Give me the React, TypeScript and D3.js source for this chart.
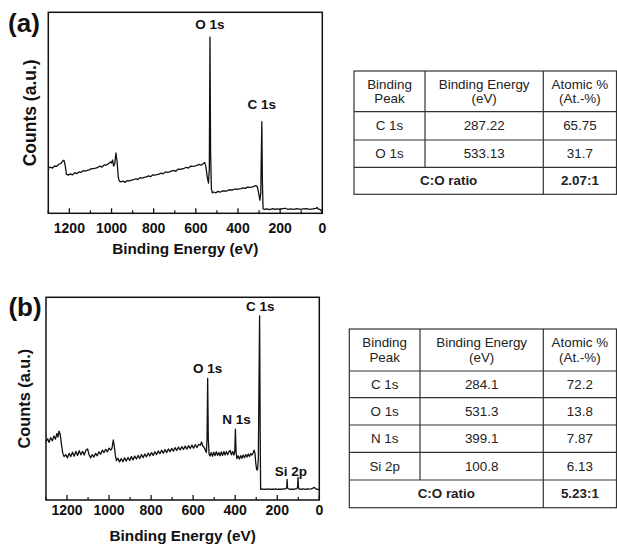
import React from "react";
import * as d3 from "d3";

// ---------- Panel (a) spectrum: [binding energy (eV), counts (a.u., 0-100)] ----------
const spectrumA: [number, number][] = [
  [1300,22.4],[1290,23.0],[1280,22.5],[1270,23.5],[1260,23.4],[1250,24.4],[1240,24.8],[1232,26.0],[1226,26.4],[1220,24.0],
  [1214,19.5],[1205,19.0],[1195,19.6],[1185,19.1],[1175,20.2],[1165,19.7],[1155,20.6],[1145,20.4],[1135,21.2],[1125,21.0],
  [1115,21.3],[1105,21.6],[1095,22.2],[1085,22.2],[1075,22.5],[1065,22.9],[1055,23.5],[1045,23.0],[1035,24.1],[1025,24.0],
  [1015,24.6],[1005,25.6],[1000,25.0],[995,26.5],[990,23.5],[985,24.5],[979,30.0],[974,26.0],[968,18.0],[963,16.0],
  [955,15.6],[945,16.0],[935,15.4],[925,16.3],[915,16.1],[905,16.5],[895,16.7],[885,17.2],[875,16.8],[865,17.7],
  [855,17.5],[845,17.9],[835,18.1],[825,18.6],[815,18.2],[805,19.1],[795,19.0],[785,19.2],[775,19.5],[765,20.0],
  [755,19.6],[745,20.6],[735,20.3],[725,20.6],[715,21.0],[705,21.4],[695,20.9],[685,22.0],[675,21.8],[665,22.1],
  [655,22.4],[645,22.9],[635,22.5],[625,23.4],[615,23.3],[605,23.5],[595,23.8],[585,24.3],[575,23.9],[565,24.8],
  [558,25.3],[552,23.0],[546,18.0],[540,15.0],[536,22.0],[533,87.6],[530,30.0],[526,12.0],[522,10.2],[515,10.6],
  [505,10.2],[495,10.9],[485,10.5],[475,11.1],[465,11.1],[455,11.0],[445,11.6],[435,11.6],[425,11.6],[415,12.1],
  [405,11.9],[395,12.2],[385,12.3],[375,12.7],[365,12.4],[355,13.0],[345,12.9],[335,13.0],[325,13.4],[315,13.8],
  [308,13.2],[302,10.0],[296,6.5],[292,10.0],[287,45.6],[284,15.0],[281,2.3],[275,1.9],[265,2.2],[255,1.9],
  [245,2.0],[235,2.3],[225,1.9],[215,2.2],[200,1.9],[190,2.3],[175,2.5],[165,2.0],[150,2.2],[135,1.9],
  [120,2.3],[105,2.0],[90,2.2],[75,2.3],[60,2.0],[45,2.2],[30,2.4],[25,2.9],[20,2.2],[10,1.8],[5,1.2],[0,0.8],
];

// ---------- Panel (b) spectrum ----------
const spectrumB: [number, number][] = [
  [1300,28.8],[1292,30.2],[1285,28.4],[1278,30.8],[1270,29.2],[1262,31.6],[1255,30.0],[1248,32.8],[1243,31.0],[1238,34.0],
  [1232,32.2],[1226,27.0],[1220,23.0],[1214,21.4],[1206,22.4],[1198,20.8],[1190,23.0],[1182,21.4],[1174,23.6],[1166,21.6],
  [1158,24.0],[1150,22.0],[1142,24.3],[1134,22.3],[1126,24.0],[1118,22.2],[1110,24.6],[1102,25.2],[1096,22.6],[1088,20.8],
  [1080,22.4],[1072,21.2],[1064,23.0],[1056,21.8],[1048,23.8],[1040,22.6],[1032,24.6],[1024,23.4],[1016,25.0],[1008,23.8],
  [1000,25.6],[992,24.6],[986,25.6],[980,29.6],[975,26.5],[970,22.0],[965,19.4],[958,20.6],[950,18.8],[942,20.4],
  [934,18.9],[926,20.8],[918,19.2],[910,21.0],[902,19.5],[894,21.4],[886,19.8],[878,21.7],[870,20.2],[862,22.0],
  [854,20.5],[846,22.4],[838,20.9],[830,22.7],[822,21.3],[814,23.1],[806,21.7],[798,23.4],[790,22.0],[782,23.8],
  [774,22.4],[766,24.2],[758,22.8],[750,24.5],[742,23.1],[734,24.9],[726,23.4],[718,25.2],[710,23.8],[702,25.5],
  [694,24.1],[686,25.8],[678,24.4],[670,26.1],[662,24.7],[654,26.3],[646,24.9],[638,26.6],[630,25.1],[622,26.8],
  [614,25.4],[606,27.1],[598,25.6],[590,27.3],[582,25.9],[574,27.4],[566,27.0],[560,28.6],[554,26.6],[548,26.0],
  [542,24.6],[537,23.5],[534,30.0],[531,60.0],[528,30.0],[524,22.5],[520,21.7],[514,23.4],[508,21.6],[502,23.6],
  [496,21.9],[490,23.8],[484,22.0],[478,23.4],[472,21.8],[466,23.7],[460,22.0],[454,23.9],[448,22.2],[442,24.0],
  [436,22.3],[430,23.8],[424,24.4],[418,22.3],[412,23.9],[406,22.2],[402,24.0],[399,34.9],[396,24.0],[392,20.4],
  [386,21.8],[380,20.2],[374,21.9],[368,20.6],[362,22.2],[356,20.9],[350,22.4],[344,21.2],[338,22.7],[332,21.5],
  [326,22.9],[320,22.2],[314,23.4],[310,24.6],[306,23.0],[302,18.0],[298,15.0],[294,14.8],[290,20.0],[284,90.8],
  [281,30.0],[279,5.3],[272,5.5],[264,5.2],[256,5.4],[248,5.3],[240,5.5],[232,5.2],[224,5.4],[216,5.3],
  [208,5.5],[200,5.2],[192,5.4],[184,5.3],[176,5.5],[168,5.4],[160,5.6],[155,6.0],[153,10.2],[151,5.8],
  [145,5.5],[138,5.3],[130,5.4],[122,5.3],[114,5.5],[106,5.6],[103,6.5],[101,11.2],[99,6.0],[95,5.4],
  [88,5.3],[80,5.5],[72,5.4],[64,5.3],[56,5.5],[48,5.4],[40,5.5],[32,5.7],[26,6.2],[22,6.0],
  [16,5.5],[10,5.3],[5,5.2],[0,5.0],
];

const xTickValues = [1200, 1000, 800, 600, 400, 200, 0];
const xMinorTicks = [1300, 1100, 900, 700, 500, 300, 100];

const peaksA = [
  { label: "O 1s", energy: 533, value: 94 },
  { label: "C 1s", energy: 287, value: 54 },
];
const peaksB = [
  { label: "C 1s", energy: 281, value: 95.5 },
  { label: "O 1s", energy: 531, value: 65 },
  { label: "N 1s", energy: 394, value: 39.6 },
  { label: "Si 2p", energy: 135, value: 14 },
];

// ---------- Tables ----------
const headerCells = [["Binding", "Peak"], ["Binding Energy", "(eV)"], ["Atomic %", "(At.-%)"]];
const tableRowsA = [
  ["C 1s", "287.22", "65.75"],
  ["O 1s", "533.13", "31.7"],
];
const ratioA = ["C:O ratio", "2.07:1"];
const tableRowsB = [
  ["C 1s", "284.1", "72.2"],
  ["O 1s", "531.3", "13.8"],
  ["N 1s", "399.1", "7.87"],
  ["Si 2p", "100.8", "6.13"],
];
const ratioB = ["C:O ratio", "5.23:1"];

const FONT = "'Liberation Sans', Arial, Helvetica, sans-serif";

type Peak = { label: string; energy: number; value: number };

function Spectrum(props: {
  left: number; right: number; top: number; bottom: number;
  data: [number, number][]; peaks: Peak[];
  tag: string; tagX: number; tagY: number;
  yTitleX: number; yTitleSize: number; tickLabelY: number; titleY: number;
}) {
  const { left, right, top, bottom, data, peaks } = props;
  const x = d3.scaleLinear().domain([1300, 0]).range([left, right]);
  const y = d3.scaleLinear().domain([0, 100]).range([bottom, top]);
  const line = d3.line<[number, number]>().x((d) => x(d[0])).y((d) => y(d[1]));
  const path = line(data) || "";
  return (
    <g>
      <path d={path} fill="none" stroke="#111" strokeWidth={1.3} strokeLinejoin="round" />
      <rect x={left} y={top} width={right - left} height={bottom - top} fill="none" stroke="#111" strokeWidth={1.5} />
      {xTickValues.map((t) => (
        <g key={"M" + t}>
          <line x1={x(t)} x2={x(t)} y1={bottom} y2={bottom - 5} stroke="#111" strokeWidth={1.3} />
          <text x={x(t)} y={props.tickLabelY} textAnchor="middle" dominantBaseline="central"
            fontFamily={FONT} fontWeight="bold" fontSize={14} fill="#111">{t}</text>
        </g>
      ))}
      {xMinorTicks.map((t) => (
        <line key={"m" + t} x1={x(t)} x2={x(t)} y1={bottom} y2={bottom - 3} stroke="#111" strokeWidth={1.2} />
      ))}
      {peaks.map((p) => (
        <text key={p.label} x={x(p.energy)} y={y(p.value)} textAnchor="middle" dominantBaseline="central"
          fontFamily={FONT} fontWeight="bold" fontSize={13.5} fill="#111">{p.label}</text>
      ))}
      <text x={(left + right) / 2} y={props.titleY} textAnchor="middle" dominantBaseline="central"
        fontFamily={FONT} fontWeight="bold" fontSize={15.3} fill="#111">Binding Energy (eV)</text>
      <text transform={`translate(${props.yTitleX},${(top + bottom) / 2}) rotate(-90)`} textAnchor="middle"
        dominantBaseline="central" fontFamily={FONT} fontWeight="bold" fontSize={props.yTitleSize} fill="#111">Counts (a.u.)</text>
      <text x={props.tagX} y={props.tagY} textAnchor="middle" dominantBaseline="central"
        fontFamily={FONT} fontWeight="bold" fontSize={26} fill="#111">{props.tag}</text>
    </g>
  );
}

function Table(props: {
  left: number; right: number; cols: number[]; rowLines: number[]; rows: string[][]; ratio: string[];
}) {
  const { left, right, cols, rowLines, rows, ratio } = props;
  const colEdges = [left, ...cols, right];
  const centers = [0, 1, 2].map((i) => (colEdges[i] + colEdges[i + 1]) / 2);
  const top = rowLines[0];
  const bottom = rowLines[rowLines.length - 1];
  const hMid = (rowLines[0] + rowLines[1]) / 2;
  const stroke = "#333";
  return (
    <g fontFamily={FONT} fontSize={13.4} fill="#222">
      <rect x={left} y={top} width={right - left} height={bottom - top} fill="white" stroke={stroke} strokeWidth={1.2} />
      {rowLines.slice(1, -1).map((r, i) => (
        <line key={"r" + i} x1={left} x2={right} y1={r} y2={r} stroke={stroke} strokeWidth={1.2} />
      ))}
      <line x1={cols[0]} x2={cols[0]} y1={top} y2={rowLines[rowLines.length - 2]} stroke={stroke} strokeWidth={1.2} />
      <line x1={cols[1]} x2={cols[1]} y1={top} y2={bottom} stroke={stroke} strokeWidth={1.2} />
      {headerCells.map((h, i) => (
        <g key={"h" + i}>
          <text x={centers[i]} y={hMid - 7.2} textAnchor="middle" dominantBaseline="central">{h[0]}</text>
          <text x={centers[i]} y={hMid + 7.2} textAnchor="middle" dominantBaseline="central">{h[1]}</text>
        </g>
      ))}
      {rows.map((row, ri) => {
        const cy = (rowLines[ri + 1] + rowLines[ri + 2]) / 2;
        return row.map((c, ci) => (
          <text key={ri + "-" + ci} x={centers[ci]} y={cy} textAnchor="middle" dominantBaseline="central">{c}</text>
        ));
      })}
      {(() => {
        const n = rowLines.length;
        const cy = (rowLines[n - 2] + rowLines[n - 1]) / 2;
        return (
          <g fontWeight="bold">
            <text x={(left + cols[1]) / 2} y={cy} textAnchor="middle" dominantBaseline="central">{ratio[0]}</text>
            <text x={centers[2]} y={cy} textAnchor="middle" dominantBaseline="central">{ratio[1]}</text>
          </g>
        );
      })()}
    </g>
  );
}

export default function App() {
  return (
    <svg width={617} height={544} style={{ position: "absolute", left: 0, top: 0, background: "white" }}>
      <rect x={0} y={0} width={617} height={544} fill="white" />
      <Spectrum left={48.3} right={322.3} top={12.3} bottom={213.3} data={spectrumA}
        peaks={peaksA} tag="(a)" tagX={24} tagY={23} yTitleX={29.5} yTitleSize={17.5} tickLabelY={228} titleY={248} />
      <Spectrum left={46} right={319.3} top={297.3} bottom={500} data={spectrumB}
        peaks={peaksB} tag="(b)" tagX={25} tagY={307} yTitleX={24} yTitleSize={16.3} tickLabelY={510} titleY={535} />
      <Table left={354} right={616.5} cols={[425, 543.3]} rowLines={[71, 111.7, 140, 167.3, 194.3]}
        rows={tableRowsA} ratio={ratioA} />
      <Table left={349.3} right={616.5} cols={[420, 543.3]} rowLines={[329, 371, 397.7, 425, 452.3, 480, 507.7]}
        rows={tableRowsB} ratio={ratioB} />
    </svg>
  );
}
